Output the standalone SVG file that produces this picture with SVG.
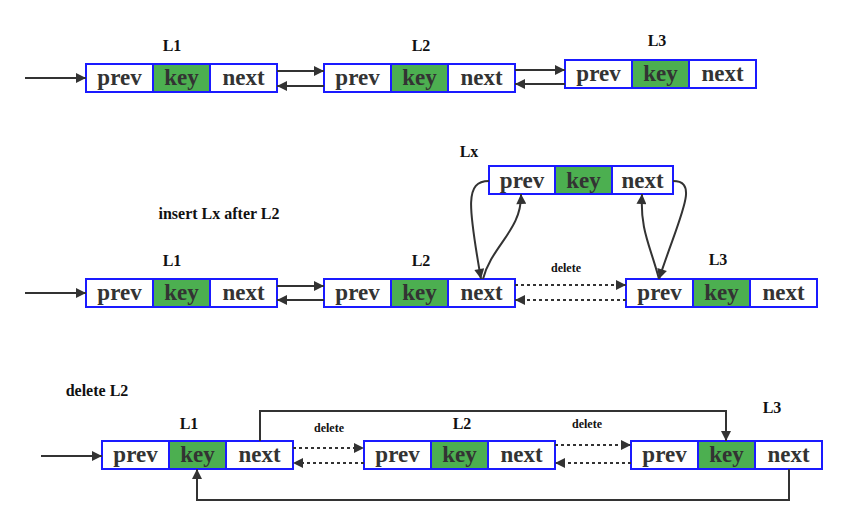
<svg xmlns="http://www.w3.org/2000/svg" width="846" height="524" viewBox="0 0 846 524">
<defs>
<marker id="ah" viewBox="0 0 10 10" refX="10" refY="5" markerWidth="12" markerHeight="10" markerUnits="userSpaceOnUse" orient="auto"><path d="M0,0 L10,5 L0,10 z" fill="#333"/></marker>
<style>
.c{fill:#fff;stroke:#1a1aff;stroke-width:2}
.k{fill:#4caf50;stroke:#1a1aff;stroke-width:2}
.t{font-family:"Liberation Serif",serif;font-weight:bold;font-size:23px;fill:#333;text-anchor:middle}
.l{font-family:"Liberation Serif",serif;font-weight:bold;font-size:16px;fill:#111;text-anchor:middle}
.d{font-family:"Liberation Serif",serif;font-weight:bold;font-size:12px;fill:#111;text-anchor:middle}
.a{fill:none;stroke:#333;stroke-width:2;marker-end:url(#ah)}
.ad{fill:none;stroke:#333;stroke-width:2;stroke-dasharray:3,3;marker-end:url(#ah)}
</style>
<g id="nodeTpl">
<rect class="c" x="0" y="0" width="67" height="28"/>
<rect class="k" x="67" y="0" width="57" height="28"/>
<rect class="c" x="124" y="0" width="67" height="28"/>
<text class="t" x="33.5" y="21">prev</text>
<text class="t" x="95.5" y="21">key</text>
<text class="t" x="157.5" y="21">next</text>
</g>
</defs>
<rect width="846" height="524" fill="#fff"/>

<g id="labels">
<text class="l" x="172" y="51">L1</text>
<text class="l" x="421" y="51">L2</text>
<text class="l" x="657" y="46">L3</text>
<text class="l" x="469" y="157">Lx</text>
<text class="l" x="219" y="219">insert Lx after L2</text>
<text class="l" x="172" y="266">L1</text>
<text class="l" x="421" y="266">L2</text>
<text class="l" x="718" y="265">L3</text>
<text class="l" x="97" y="396">delete L2</text>
<text class="l" x="189" y="429">L1</text>
<text class="l" x="462" y="429">L2</text>
<text class="l" x="772" y="413">L3</text>
<text class="d" x="566" y="272">delete</text>
<text class="d" x="329" y="432">delete</text>
<text class="d" x="587" y="428">delete</text>
</g>

<g id="r1-L1"><use href="#nodeTpl" x="86" y="64"/></g>
<g id="r1-L2"><use href="#nodeTpl" x="324" y="64"/></g>
<g id="r1-L3"><use href="#nodeTpl" x="565" y="60"/></g>

<g id="r2-Lx">
<rect class="c" x="489" y="166" width="66" height="28"/>
<rect class="k" x="555" y="166" width="57" height="28"/>
<rect class="c" x="612" y="166" width="61" height="28"/>
<text class="t" x="522" y="188">prev</text>
<text class="t" x="583.5" y="188">key</text>
<text class="t" x="642.5" y="188">next</text>
</g>
<g id="r2-L1"><use href="#nodeTpl" x="86" y="279"/></g>
<g id="r2-L2"><use href="#nodeTpl" x="324" y="279"/></g>
<g id="r2-L3"><use href="#nodeTpl" x="626" y="279"/></g>

<g id="r3-L1"><use href="#nodeTpl" x="102" y="441"/></g>
<g id="r3-L2"><use href="#nodeTpl" x="364" y="441"/></g>
<g id="r3-L3"><use href="#nodeTpl" x="631" y="441"/></g>

<g id="connectors">
<path class="a" d="M25,78 H86"/>
<path class="a" d="M277,71 H324"/>
<path class="a" d="M324,86 H277"/>
<path class="a" d="M515,70 H565"/>
<path class="a" d="M565,84 H515"/>

<path class="a" d="M25,293 H86"/>
<path class="a" d="M277,286 H324"/>
<path class="a" d="M324,300 H277"/>
<path class="ad" d="M515,285 H626"/>
<path class="ad" d="M626,300 H515"/>
<path class="a" d="M489,181 C465,181 468,205 481,279"/>
<path class="a" d="M483,279 C492,245 522,230 521,194"/>
<path class="a" d="M673,181 C700,181 680,215 659,279"/>
<path class="a" d="M659,279 C650,245 640,230 642,194"/>

<path class="a" d="M41,456 H102"/>
<path class="ad" d="M293,448 H364"/>
<path class="ad" d="M364,463 H293"/>
<path class="ad" d="M555,445 H631"/>
<path class="ad" d="M631,463 H555"/>
<path class="a" d="M260,441 V411 H726 V441"/>
<path class="a" d="M789,469 V500 H197 V469"/>
</g>
</svg>
